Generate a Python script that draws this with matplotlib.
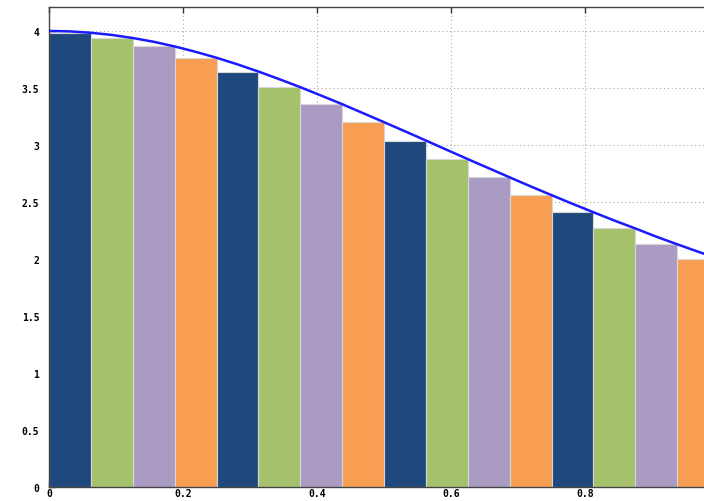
import numpy as np
import matplotlib.pyplot as plt

# right-endpoint rectangles under the curve, 16 strips on [0, 1]
bar_left = [i / 16 for i in range(16)]
bar_height = [3.984, 3.938, 3.864, 3.765, 3.644, 3.507, 3.358, 3.200,
              3.039, 2.876, 2.716, 2.560, 2.410, 2.268, 2.129, 2.000]
bar_colors = ['#1f497d', '#a5c16b', '#aa9bc2', '#f79e53']

# sampled curve
curve_x = [i / 32 for i in range(33)]
curve_y = [4.000, 3.996, 3.984, 3.965, 3.938, 3.905, 3.864, 3.817,
           3.765, 3.707, 3.644, 3.577, 3.507, 3.433, 3.358, 3.279,
           3.200, 3.120, 3.039, 2.957, 2.876, 2.796, 2.716, 2.637,
           2.560, 2.484, 2.410, 2.337, 2.268, 2.196, 2.129, 2.064, 2.000]

x_ticks = [0, 0.2, 0.4, 0.6, 0.8]
x_labels = ['0', '0.2', '0.4', '0.6', '0.8']
y_ticks = [0, 0.5, 1, 1.5, 2, 2.5, 3, 3.5, 4]
y_labels = ['0', '0.5', '1', '1.5', '2', '2.5', '3', '3.5', '4']

fig = plt.figure(figsize=(7.04, 5.02), dpi=100)
ax = fig.add_axes([49 / 704, 14 / 502, 670 / 704, 480 / 502])

cols = [bar_colors[i % 4] for i in range(16)]
ax.bar(bar_left, bar_height, width=1 / 16, align='edge', color=cols,
       edgecolor='#d8d8d8', linewidth=0.8, zorder=2)
ax.plot(curve_x, curve_y, color='#1a1aff', linewidth=1.8, zorder=3)

ax.set_xlim(0, 1)
ax.set_ylim(0, 4.21)
ax.set_xticks(x_ticks)
ax.set_xticklabels(x_labels)
ax.set_yticks(y_ticks)
ax.set_yticklabels(y_labels)
ax.grid(True, color='#aaaaaa', linestyle=(0, (1, 2.5)), linewidth=0.8, zorder=0)
ax.set_axisbelow(True)
ax.tick_params(direction='in', length=4, width=1, color='#333333',
               top=True, right=True, labelsize=7)
ax.tick_params(axis='y', pad=7)
ax.tick_params(axis='x', pad=1)
for lab in ax.get_xticklabels() + ax.get_yticklabels():
    lab.set_fontfamily('DejaVu Sans Mono')
    lab.set_fontweight('bold')
for sp in ax.spines.values():
    sp.set_color('#444444')
    sp.set_linewidth(1)

fig.savefig('out.png', dpi=100)
